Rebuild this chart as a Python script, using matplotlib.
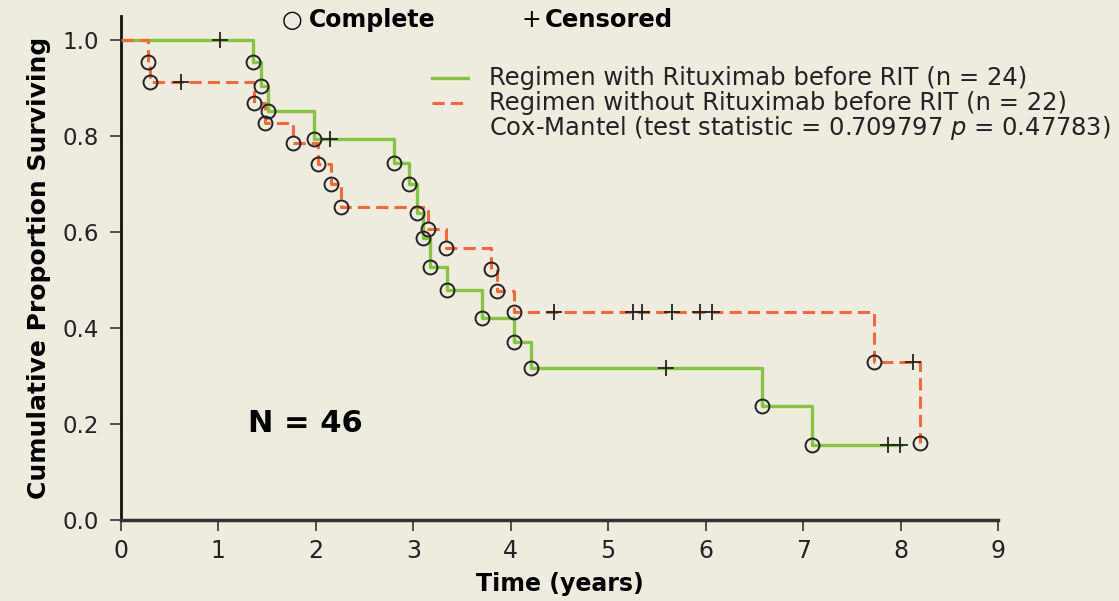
import numpy as np
import matplotlib
matplotlib.use("Agg")
import matplotlib.pyplot as plt

# Kaplan-Meier steps (time in years, survival after the drop)
with_times = [0, 1.36, 1.44, 1.51, 1.98, 2.80, 2.96, 3.04, 3.10, 3.17, 3.35, 3.71, 4.03, 4.21, 6.58, 7.09]
with_surv = [1.0, 0.955, 0.905, 0.853, 0.795, 0.745, 0.700, 0.640, 0.588, 0.528, 0.480, 0.421, 0.371, 0.316, 0.237, 0.157]
with_end = 8.0
with_censored = [1.02, 2.15, 5.59, 7.87, 7.99]

without_times = [0, 0.28, 0.30, 1.37, 1.48, 1.77, 2.02, 2.16, 2.26, 3.15, 3.34, 3.80, 3.86, 4.03, 7.73, 8.20]
without_surv = [1.0, 0.955, 0.912, 0.870, 0.828, 0.785, 0.742, 0.700, 0.652, 0.607, 0.566, 0.522, 0.478, 0.433, 0.330, 0.160]
without_end = 8.20
without_censored = [0.62, 4.44, 5.25, 5.35, 5.65, 5.94, 6.06, 8.13]

x_ticks = [0, 1, 2, 3, 4, 5, 6, 7, 8, 9]
y_ticks = [0.0, 0.2, 0.4, 0.6, 0.8, 1.0]

bg = "#efebdf"
green = "#86c443"
orange = "#f26a3b"


def level_at(times, surv, t):
    i = np.searchsorted(times, t, side="right") - 1
    return surv[i]


fig = plt.figure(figsize=(11.19, 6.01), dpi=100, facecolor=bg)
ax = fig.add_axes([0.108, 0.135, 0.784, 0.838])
ax.set_facecolor(bg)

# step curves
gx = with_times + [with_end]
gy = with_surv + [with_surv[-1]]
ax.step(gx, gy, where="post", color=green, lw=2.4, zorder=2)
ox = without_times + [without_end]
oy = without_surv + [without_surv[-1]]
ax.step(ox, oy, where="post", color=orange, lw=2.2, ls="--", dashes=(4, 2), zorder=3)

# complete (event) markers
for times, surv in [(with_times, with_surv), (without_times, without_surv)]:
    ax.plot(times[1:], surv[1:], ls="none", marker="o", ms=10, mfc="none",
            mec="#222222", mew=1.4, zorder=4)

# censored markers
gc = [level_at(with_times, with_surv, t) for t in with_censored]
oc = [level_at(without_times, without_surv, t) for t in without_censored]
ax.plot(with_censored, gc, ls="none", marker="+", ms=11, mec="#222222", mew=1.3, zorder=4)
ax.plot(without_censored, oc, ls="none", marker="+", ms=11, mec="#222222", mew=1.3, zorder=4)

ax.set_xlim(0, 9)
ax.set_ylim(0, 1.05)
ax.set_xticks(x_ticks)
ax.set_yticks(y_ticks)
ax.set_yticklabels([f"{v:.1f}" for v in y_ticks], fontsize=16.5, color="#222222")
ax.set_xticklabels([str(v) for v in x_ticks], fontsize=17, color="#222222")
ax.tick_params(axis="both", direction="out", length=8, width=1.2, color="#333333")
ax.tick_params(axis="y", pad=8)
ax.tick_params(axis="x", pad=6)
for s in ["top", "right"]:
    ax.spines[s].set_visible(False)
ax.spines["left"].set_linewidth(2)
ax.spines["bottom"].set_linewidth(2.5)
ax.spines["left"].set_color("#111111")
ax.spines["bottom"].set_color("#333333")

ax.set_ylabel("Cumulative Proportion Surviving", fontsize=18, fontweight="bold", labelpad=8)
ax.set_xlabel("Time (years)", fontsize=17, fontweight="bold", labelpad=6)

ax.text(1.3, 0.2, "N = 46", fontsize=22, fontweight="bold", va="center", ha="left")

# header keys
fig.text(0.252, 0.966, "\u25cb", fontsize=17, va="center", ha="left")
fig.text(0.276, 0.966, "Complete", fontsize=17, fontweight="bold", va="center", ha="left")
fig.text(0.466, 0.966, "+", fontsize=17, va="center", ha="left")
fig.text(0.487, 0.966, "Censored", fontsize=17.5, fontweight="bold", va="center", ha="left")

# legend
leg_x0, leg_x1, leg_tx = 0.386, 0.418, 0.437
rows = [0.870, 0.829, 0.787]
fig.add_artist(plt.Line2D([leg_x0, leg_x1], [rows[0], rows[0]], color=green, lw=2.4))
fig.add_artist(plt.Line2D([leg_x0, leg_x1], [rows[1], rows[1]], color=orange, lw=2.2,
                          ls="--", dashes=(4, 2)))
fig.text(leg_tx, rows[0], "Regimen with Rituximab before RIT (n = 24)", fontsize=17.5,
         va="center", color="#222222")
fig.text(leg_tx, rows[1], "Regimen without Rituximab before RIT (n = 22)", fontsize=17.5,
         va="center", color="#222222")
fig.text(leg_tx, rows[2], "Cox-Mantel (test statistic = 0.709797 $p$ = 0.47783)",
         fontsize=17.5, va="center", color="#222222")

fig.savefig("out.png", dpi=100, facecolor=bg)
